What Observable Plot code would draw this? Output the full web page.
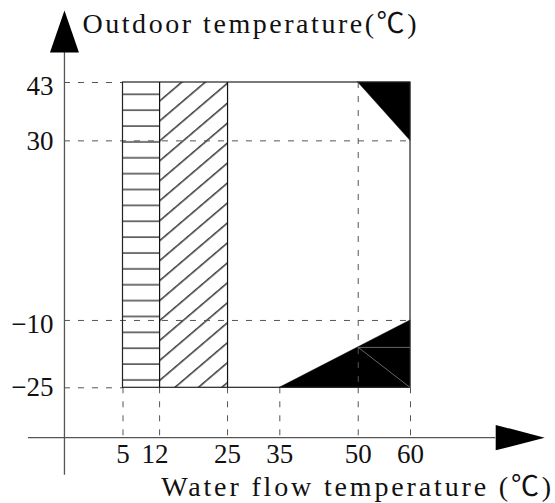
<!DOCTYPE html>
<html><head><meta charset="utf-8">
<script src="https://cdn.jsdelivr.net/npm/d3@7"></script>
<script src="https://cdn.jsdelivr.net/npm/@observablehq/plot@0.6"></script>
<style>body{margin:0;background:#fff}</style>
</head><body><div id="chart"></div>
<script>
// ---- data ----
const xTicks = [5, 12, 25, 35, 50, 60];
const xTickLabels = ["5", "12", "25", "35", "50", "60"];
const yTicks = [43, 30, -10, -25];
const yTickLabels = ["43", "30", "−10", "−25"];
const xTitle = "Water flow temperature (℃)";
const yTitle = "Outdoor temperature(℃)";

const envelope = [{x1: 5, x2: 60, y1: -25, y2: 43}];
const horizontalBand = [{x1: 5, x2: 12, y1: -25, y2: 43}];
const diagonalBand = [{x1: 12, x2: 25, y1: -25, y2: 43}];
const bandEdges = [12, 25];
const topCut = [{x: 50, y1: 43, y2: 43}, {x: 60, y1: 43, y2: 30}];
const bottomCut = [{x: 35, y1: -25, y2: -25}, {x: 60, y1: -25, y2: -10}];
const innerLevel = -16;          // hypotenuse of bottom cut at x = 50
const innerX = [50, 60];

// guide lines (dashed)
const hGuides = [
  {y: 43, x2: 5}, {y: 30, x2: 60}, {y: -10, x2: 60}, {y: -25, x2: 5}
];
const vGuideTop = [{x: 50, y1: 43, y2: -25}];

// axes
const yAxisAt = -6.2, xAxisAt = -36.1;
const xAxisExtent = [-13.1, 76.3];
const yAxisExtent = [-44.5, 49.7];

// ---- arrowhead symbols (pixel shapes) ----
const upArrow = {draw(ctx) { ctx.moveTo(0, -42); ctx.lineTo(14.5, 0); ctx.lineTo(-14.5, 0); ctx.closePath(); }};
const rightArrow = {draw(ctx) { ctx.moveTo(0, -12.7); ctx.lineTo(49, 0); ctx.lineTo(0, 12.7); ctx.closePath(); }};

const dash = "6,8";
const guideColor = "#555";
const serif = "'Liberation Serif', 'Times New Roman', serif";
const titleFont = "'Liberation Serif', 'Noto Sans CJK SC', serif";

const yTickData = yTicks.map((v, i) => ({v, label: yTickLabels[i]}));
const xTickData = xTicks.map((v, i) => ({v, label: xTickLabels[i]}));

const chart = Plot.plot({
  width: 555, height: 503,
  marginTop: 0, marginRight: 0, marginBottom: 0, marginLeft: 0,
  x: {type: "linear", domain: [5, 60], range: [122.5, 410], axis: null},
  y: {type: "linear", domain: [-25, 43], range: [387.3, 82], axis: null},
  marks: [
    Plot.rect(horizontalBand, {x1: "x1", x2: "x2", y1: "y1", y2: "y2", fill: "url(#hhatch)"}),
    Plot.rect(diagonalBand, {x1: "x1", x2: "x2", y1: "y1", y2: "y2", fill: "url(#dhatch)"}),
    Plot.areaY(topCut, {x: "x", y1: "y1", y2: "y2", fill: "black", stroke: "black", strokeWidth: 0.5}),
    Plot.areaY(bottomCut, {x: "x", y1: "y1", y2: "y2", fill: "black", stroke: "black", strokeWidth: 0.5}),
    // dashed guides
    Plot.ruleY(hGuides, {y: "y", x1: () => yAxisAt, x2: "x2", stroke: guideColor, strokeDasharray: dash}),
    Plot.ruleX(xTicks, {x: d => d, y1: () => -25, y2: () => xAxisAt, stroke: guideColor, strokeDasharray: dash}),
    Plot.ruleX(vGuideTop, {x: "x", y1: "y1", y2: "y2", stroke: guideColor, strokeDasharray: dash}),
    // envelope outline and band edges
    Plot.rect(envelope, {x1: "x1", x2: "x2", y1: "y1", y2: "y2", fill: "none", stroke: "#222", strokeWidth: 1.2}),
    Plot.ruleX(bandEdges, {x: d => d, y1: () => -25, y2: () => 43, stroke: "#111", strokeWidth: 1.2}),
    // thin lines inside black corner
    Plot.ruleY([innerLevel], {y: d => d, x1: () => innerX[0], x2: () => innerX[1], stroke: "#666", strokeWidth: 1}),
    Plot.link([{x1: innerX[0], y1: innerLevel, x2: innerX[1], y2: -25}], {x1: "x1", y1: "y1", x2: "x2", y2: "y2", stroke: "#666", strokeWidth: 1}),
    // axes
    Plot.ruleX([yAxisAt], {x: d => d, y1: () => yAxisExtent[0], y2: () => yAxisExtent[1], stroke: "#555", strokeWidth: 1.3}),
    Plot.ruleY([xAxisAt], {y: d => d, x1: () => xAxisExtent[0], x2: () => xAxisExtent[1], stroke: "#555", strokeWidth: 1.3}),
    Plot.dot([[yAxisAt, yAxisExtent[1]]], {x: d => d[0], y: d => d[1], symbol: upArrow, fill: "black", stroke: "none"}),
    Plot.dot([[xAxisExtent[1], xAxisAt]], {x: d => d[0], y: d => d[1], symbol: rightArrow, fill: "black", stroke: "none"}),
    // tick labels
    Plot.text(yTickData.filter(d => d.v === 43 || d.v === -10), {x: () => yAxisAt, y: "v", text: "label", textAnchor: "end", dx: -11, dy: 4, fontSize: 27, fontFamily: serif, fill: "#111"}),
    Plot.text(yTickData.filter(d => !(d.v === 43 || d.v === -10)), {x: () => yAxisAt, y: "v", text: "label", textAnchor: "end", dx: -11, fontSize: 27, fontFamily: serif, fill: "#111"}),
    Plot.text(xTickData.filter(d => d.v !== 12), {x: "v", y: () => xAxisAt, text: "label", dy: 17, fontSize: 27, fontFamily: serif, fill: "#111"}),
    Plot.text(xTickData.filter(d => d.v === 12), {x: "v", y: () => xAxisAt, text: "label", dy: 17, dx: -4.5, fontSize: 27, fontFamily: serif, fill: "#111"}),
    // titles
    Plot.text([yTitle], {frameAnchor: "top-left", text: d => d, textAnchor: "start", lineAnchor: "middle", dx: 82, dy: 23.7, fontSize: 28, fontFamily: titleFont, fill: "#111"}),
    Plot.text([xTitle], {frameAnchor: "top-left", text: d => d, textAnchor: "start", lineAnchor: "middle", dx: 160.7, dy: 486.5, fontSize: 28, fontFamily: titleFont, fill: "#111"})
  ]
});

const svg = d3.select(chart);
const defs = svg.insert("defs", ":first-child");
const hp = defs.append("pattern").attr("id", "hhatch").attr("patternUnits", "userSpaceOnUse")
  .attr("width", 20).attr("height", 15.87);
hp.append("path").attr("d", "M0,14.95H20").attr("stroke", "#000").attr("stroke-width", 1.1);
const dp = defs.append("pattern").attr("id", "dhatch").attr("patternUnits", "userSpaceOnUse")
  .attr("width", 40).attr("height", 15.2).attr("patternTransform", "rotate(-40.4)");
dp.append("path").attr("d", "M0,13.2H40").attr("stroke", "#000").attr("stroke-width", 1.1);

svg.selectAll("text").each(function() {
  const t = this.textContent;
  if (t === yTitle) d3.select(this).attr("textLength", 334).attr("lengthAdjust", "spacing");
  if (t === xTitle) d3.select(this).attr("textLength", 390).attr("lengthAdjust", "spacing");
});

document.getElementById("chart").appendChild(chart);
</script>
</body></html>
